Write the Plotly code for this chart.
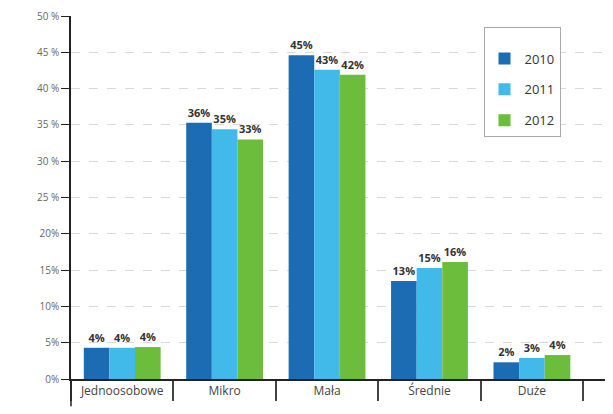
import plotly.graph_objects as go

# Company size categories and share of each year
CATEGORIES = ["Jednoosobowe", "Mikro", "Mała", "Średnie", "Duże"]
YEARS = ["2010", "2011", "2012"]
VALUES = {
    "2010": [4.3, 35.3, 44.6, 13.5, 2.3],
    "2011": [4.3, 34.4, 42.6, 15.3, 2.9],
    "2012": [4.4, 33.0, 41.9, 16.1, 3.3],
}
LABELS = {
    "2010": ["4%", "36%", "45%", "13%", "2%"],
    "2011": ["4%", "35%", "43%", "15%", "3%"],
    "2012": ["4%", "33%", "42%", "16%", "4%"],
}
Y_TICKS = [0, 5, 10, 15, 20, 25, 30, 35, 40, 45, 50]
Y_TICK_TEXT = ["0%", "5%", "10%", "15%", "20%", "25 %", "30 %", "35 %", "40 %", "45 %", "50 %"]

COLORS = {"2010": "#1b6cb3", "2011": "#41b9e9", "2012": "#6cbd3c"}
FONT = "Open Sans, DejaVu Sans, sans-serif"

fig = go.Figure()
for yr in YEARS:
    fig.add_trace(go.Bar(
        x=CATEGORIES,
        y=VALUES[yr],
        name=yr,
        legendgroup=yr,
        marker=dict(color=COLORS[yr], line=dict(width=0)),
        text=LABELS[yr],
        textposition="outside",
        cliponaxis=False,
        textfont=dict(size=11, color="#333333", family=FONT, weight="bold"),
    ))

# y axis line running below the zero line
fig.add_shape(type="line", xref="paper", yref="paper",
              x0=0, x1=0, y0=0, y1=-0.075,
              line=dict(color="#222222", width=1.5))

# the page body adds an 8px offset, so margins are trimmed to suit
fig.update_layout(
    width=613, height=414,
    margin=dict(l=63, r=0, t=8, b=43),
    paper_bgcolor="white",
    plot_bgcolor="white",
    barmode="group",
    bargap=0.25,
    bargroupgap=0,
    font=dict(family=FONT, size=10, color="#555555"),
    showlegend=True,
    legend=dict(
        x=0.75, y=0.97, xanchor="left", yanchor="top",
        bordercolor="#aaaaaa", borderwidth=1,
        bgcolor="white",
        traceorder="grouped",
        tracegroupgap=11,
        title=dict(text=" ", font=dict(size=12)),
        font=dict(size=13, color="#333333"),
        itemwidth=30,
    ),
    xaxis=dict(
        range=[-0.5, 4.87],
        automargin=False,
        showline=True, linecolor="#222222", linewidth=1.5,
        ticks="outside", tickson="boundaries", ticklen=20,
        tickcolor="#444444", tickwidth=1.5,
        tickfont=dict(size=12, color="#444444"),
        showgrid=False,
    ),
    yaxis=dict(
        range=[0, 50],
        automargin=False,
        tickvals=Y_TICKS, ticktext=Y_TICK_TEXT,
        showline=True, linecolor="#222222", linewidth=1.5,
        ticks="outside", ticklen=8, tickcolor="#222222",
        tickfont=dict(size=10, color="#666666"),
        showgrid=True, gridcolor="#d9d9d9", griddash="dash",
        zeroline=False,
    ),
)

fig.write_html("out.html")
